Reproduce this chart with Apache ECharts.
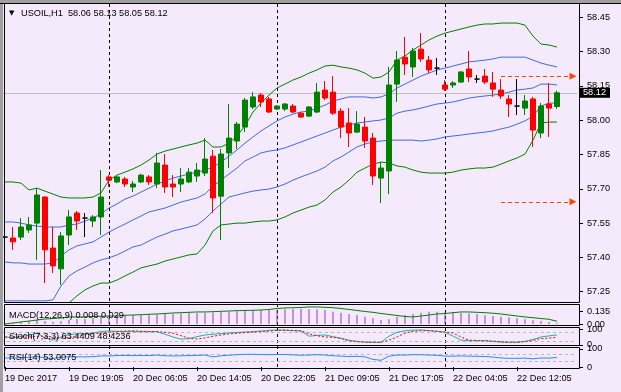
<!DOCTYPE html>
<html><head><meta charset="utf-8">
<script src="https://cdn.jsdelivr.net/npm/echarts@6/dist/echarts.min.js"></script>
<style>html,body{margin:0;padding:0;background:#F5EAFB;}#c{width:621px;height:392px;}</style>
</head><body><div id="c"></div>
<script>
// ---------- data ----------
const symbolName = 'USOIL,H1';
const timeLabels = ['19 Dec 2017','19 Dec 19:05','20 Dec 06:05','20 Dec 14:05','20 Dec 22:05','21 Dec 09:05','21 Dec 17:05','22 Dec 04:05','22 Dec 12:05'];
const labelStep = 8;
const categoryCount = 72;
const daySeparators = [13, 34, 55];
const priceTicks = [57.25,57.40,57.55,57.70,57.85,58.00,58.15,58.30,58.45];
const priceRange = [57.205, 58.504];
const lastPrice = 58.12;
const targetLevels = [58.192, 57.643];
const targetSpan = [62, 71];
// [open, close, low, high]
const candles = [
[57.489,57.489,57.454,57.550],[57.485,57.468,57.433,57.533],[57.489,57.533,57.476,57.572],[57.520,57.542,57.507,57.577],
[57.550,57.673,57.389,57.703],[57.664,57.433,57.288,57.668],[57.441,57.363,57.332,57.533],[57.350,57.494,57.280,57.511],
[57.498,57.577,57.454,57.607],[57.594,57.559,57.520,57.603],[57.572,57.572,57.489,57.594],[57.559,57.577,57.533,57.585],
[57.577,57.664,57.498,57.782],[57.752,57.738,57.708,57.760],[57.730,57.752,57.725,57.756],[57.743,57.721,57.708,57.752],
[57.708,57.721,57.686,57.734],[57.730,57.760,57.725,57.765],[57.752,57.730,57.717,57.760],[57.721,57.813,57.703,57.857],
[57.804,57.708,57.682,57.852],[57.721,57.708,57.664,57.760],[57.721,57.743,57.686,57.791],[57.730,57.773,57.725,57.791],
[57.756,57.782,57.730,57.813],[57.769,57.830,57.756,57.922],[57.843,57.660,57.594,57.870],[57.668,57.852,57.476,57.874],
[57.857,57.922,57.791,58.071],[57.909,57.983,57.874,57.992],[57.970,58.088,57.948,58.097],[58.058,58.102,58.049,58.123],
[58.110,58.080,58.058,58.119],[58.093,58.036,58.031,58.102],[58.049,58.062,58.045,58.066],[58.049,58.071,58.040,58.075],
[58.062,58.036,58.031,58.071],[58.031,58.014,58.010,58.036],[58.018,58.058,58.014,58.062],[58.036,58.123,58.031,58.163],
[58.132,58.097,58.088,58.171],[58.123,58.031,58.023,58.193],[58.040,57.970,57.922,58.053],[57.988,57.944,57.883,58.053],
[57.948,57.983,57.944,58.040],[57.970,57.909,57.879,58.014],[57.922,57.756,57.717,57.944],[57.747,57.791,57.638,57.817],
[57.778,58.154,57.677,58.233],[58.158,58.263,58.080,58.303],[58.276,58.246,58.198,58.364],[58.233,58.303,58.189,58.316],
[58.311,58.268,58.255,58.381],[58.263,58.220,58.206,58.281],[58.228,58.228,58.198,58.272],[58.154,58.136,58.128,58.176],
[58.154,58.163,58.141,58.171],[58.167,58.211,58.163,58.215],[58.224,58.189,58.167,58.303],[58.180,58.180,58.163,58.198],
[58.193,58.167,58.158,58.224],[58.163,58.136,58.102,58.211],[58.132,58.106,58.093,58.180],[58.093,58.071,58.014,58.110],
[58.062,58.062,58.023,58.180],[58.053,58.084,58.023,58.110],[58.093,57.957,57.883,58.102],[57.944,58.062,57.922,58.075],
[58.071,58.053,57.927,58.163],[58.06,58.12,58.05,58.13]
];
const bbUpper2 = [57.730,57.730,57.725,57.695,57.703,57.690,57.677,57.664,57.660,57.660,
57.660,57.664,57.682,57.738,57.760,57.773,57.787,57.804,57.826,57.852,
57.865,57.874,57.883,57.892,57.900,57.913,57.883,57.883,57.900,57.931,
57.975,58.036,58.075,58.110,58.141,58.158,58.176,58.189,58.206,58.220,
58.237,58.241,58.233,58.228,58.220,58.206,58.184,58.189,58.211,58.263,
58.281,58.307,58.329,58.351,58.368,58.381,58.390,58.399,58.408,58.416,
58.421,58.421,58.425,58.425,58.425,58.416,58.368,58.333,58.329,58.320];
const bbUpper1 = [57.555,57.555,57.550,57.542,57.537,57.533,57.533,57.533,57.542,57.546,
57.559,57.572,57.590,57.616,57.634,57.655,57.668,57.686,57.703,57.721,
57.734,57.747,57.756,57.765,57.773,57.782,57.795,57.817,57.843,57.870,
57.900,57.927,57.953,57.975,57.997,58.014,58.027,58.036,58.040,58.053,
58.066,58.084,58.093,58.102,58.102,58.102,58.097,58.102,58.115,58.141,
58.158,58.176,58.193,58.206,58.220,58.228,58.237,58.246,58.255,58.259,
58.263,58.268,58.276,58.276,58.276,58.276,58.263,58.250,58.241,58.233];
const bbMiddle = [57.380,57.376,57.376,57.371,57.371,57.371,57.376,57.406,57.433,57.450,
57.459,57.468,57.489,57.511,57.529,57.546,57.564,57.581,57.599,57.607,
57.616,57.629,57.642,57.651,57.660,57.677,57.712,57.738,57.765,57.791,
57.822,57.839,57.857,57.865,57.870,57.879,57.892,57.905,57.918,57.931,
57.944,57.957,57.970,57.979,57.988,57.992,57.997,58.001,58.010,58.031,
58.040,58.045,58.053,58.062,58.071,58.075,58.080,58.088,58.097,58.102,
58.106,58.110,58.115,58.123,58.132,58.136,58.141,58.158,58.158,58.154];
const bbLower1 = [57.210,57.210,57.210,57.210,57.210,57.210,57.214,57.275,57.319,57.341,
57.358,57.376,57.389,57.398,57.411,57.428,57.446,57.454,57.472,57.489,
57.502,57.516,57.524,57.533,57.542,57.568,57.603,57.634,57.664,57.673,
57.682,57.690,57.695,57.699,57.708,57.721,57.738,57.752,57.765,57.778,
57.795,57.822,57.839,57.861,57.883,57.896,57.905,57.909,57.913,57.913,
57.913,57.913,57.909,57.913,57.918,57.927,57.931,57.935,57.940,57.944,
57.948,57.953,57.962,57.970,57.983,57.997,58.018,58.062,58.075,58.075];
const bbLower2 = [57.030,57.030,57.030,57.039,57.039,57.048,57.066,57.144,57.201,57.232,
57.258,57.275,57.288,57.288,57.301,57.319,57.336,57.354,57.363,57.371,
57.384,57.393,57.402,57.411,57.415,57.454,57.516,57.542,57.546,57.550,
57.550,57.555,57.559,57.559,57.564,57.577,57.594,57.607,57.620,57.629,
57.651,57.686,57.708,57.738,57.773,57.791,57.808,57.817,57.813,57.800,
57.795,57.782,57.773,57.769,57.769,57.769,57.773,57.782,57.787,57.791,
57.791,57.795,57.808,57.822,57.835,57.852,57.913,57.988,57.992,57.992];
const macdMain = [0,0.011,0.022,0.032,0.043,0.032,0.022,0.032,0.043,0.054,
0.054,0.065,0.076,0.086,0.086,0.097,0.097,0.097,0.103,0.103,
0.108,0.108,0.113,0.119,0.119,0.122,0.124,0.130,0.133,0.137,
0.140,0.144,0.148,0.151,0.154,0.159,0.162,0.162,0.159,0.157,
0.151,0.133,0.122,0.108,0.097,0.079,0.062,0.043,0.051,0.079,
0.097,0.108,0.122,0.133,0.133,0.126,0.126,0.122,0.115,0.108,
0.094,0.086,0.079,0.070,0.062,0.051,0.040,0.032,0.022,0.008];
const macdSignal = [0,0.011,0.022,0.032,0.043,0.054,0.059,0.065,0.076,0.076,
0.076,0.081,0.083,0.086,0.086,0.094,0.097,0.100,0.105,0.108,
0.113,0.119,0.122,0.126,0.130,0.130,0.133,0.137,0.140,0.144,
0.146,0.148,0.151,0.157,0.167,0.173,0.176,0.178,0.184,0.184,
0.180,0.176,0.167,0.157,0.146,0.135,0.126,0.113,0.103,0.092,
0.081,0.076,0.086,0.097,0.108,0.113,0.122,0.130,0.130,0.126,
0.122,0.116,0.108,0.097,0.086,0.076,0.068,0.059,0.051,0.029];
const macdRange = [-0.0108, 0.205];
const macdTicks = [0.135, 0];
const stochMain = [50,45,55,60,75,45,30,50,65,70,
72,75,85,88,86,84,84,84,84,84,
68,50,36,40,52,63,68,72,76,79,
82,84,88,92,95,93,90,88,55,60,
63,52,42,30,22,17,16,16,55,80,
90,94,95,90,87,80,56,30,26,26,
26,22,17,16,16,22,34,50,57,63.4409];
const stochSignal = [50,50,48,50,55,55,50,42,45,55,
65,70,75,80,85,88,90,87,85,84,
80,74,58,42,37,44,55,62,70,74,
78,82,84,88,92,94,92,90,70,58,
50,48,40,25,20,18,16,16,30,50,
75,86,90,91,86,82,76,50,30,28,
26,24,20,17,17,20,28,40,43,48.4236];
const stochRange = [-1.06, 107.4];
const stochLevels = [80, 20];
const stochTicks = [100, 80, 20, 0];
const rsiValues = [50,49,52,53,58,50,47,54,57,56,
56,57,61,61,63,64,63,64,63,66,
62,61,62,63,64,66,56,62,65,68,
70,70,69,68,69,69,67,65,66,68,
66,62,60,58,59,56,42,37,60,66,
66,68,68,66,65,60,60,61,60,59,
58,55,50,48,48,49,45,50,49,53.0075];
const rsiRange = [-5.5, 105];
const rsiLevels = [70, 30];
const rsiTicks = [100, 70, 30, 0];

// ---------- chart ----------
const FONT = 'Liberation Sans';
const FS = 9.2;
const cats = Array.from({length: categoryCount}, (_, i) => String(i));
const last = candles[candles.length - 1];
const chart = echarts.init(document.getElementById('c'), null, {renderer: 'canvas'});

const grids = [
  {left: 1, top: 5, width: 576, height: 297},
  {left: 1, top: 305, width: 576, height: 20},
  {left: 1, top: 328, width: 576, height: 17},
  {left: 1, top: 348, width: 576, height: 20}
];
function hiddenX(gi) {
  return {gridIndex: gi, type: 'category', data: cats, boundaryGap: true,
    axisLine: {show: false}, axisTick: {show: false}, axisLabel: {show: false}, splitLine: {show: false}};
}
function rightY(gi, range, ticks, fmt) {
  return {gridIndex: gi, type: 'value', position: 'right', offset: 2, min: range[0], max: range[1],
    splitLine: {show: false}, axisLine: {show: false},
    axisTick: {show: true, length: 4, lineStyle: {color: '#000'}, customValues: ticks},
    axisLabel: {show: true, customValues: ticks, formatter: fmt, margin: 8, color: '#000',
      hideOverlap: false, showMinLabel: true, showMaxLabel: true,
      fontFamily: FONT, fontSize: FS}};
}
const xAxes = [hiddenX(0), hiddenX(1), hiddenX(2), {
  gridIndex: 3, type: 'category', data: cats, boundaryGap: true,
  axisLine: {show: false},
  axisTick: {show: true, length: 4, interval: labelStep - 1, alignWithLabel: true, lineStyle: {color: '#000'}},
  axisLabel: {show: true, interval: labelStep - 1, align: 'left', margin: 6, color: '#000',
    fontFamily: FONT, fontSize: FS, formatter: (v, i) => timeLabels[Math.floor(i / labelStep)] || ''},
  splitLine: {show: false}
}];
const yAxes = [
  rightY(0, priceRange, priceTicks, v => v.toFixed(2)),
  rightY(1, macdRange, macdTicks, v => v === 0 ? '0.00' : v.toFixed(3)),
  rightY(2, stochRange, stochTicks, v => String(v)),
  rightY(3, rsiRange, rsiTicks, v => String(v))
];
function line(data, gi, color, extra) {
  return Object.assign({type: 'line', xAxisIndex: gi, yAxisIndex: gi, data: data, symbol: 'none',
    lineStyle: {color: color, width: 1}, itemStyle: {color: color}, silent: true, z: 3}, extra || {});
}
const levelLine = (vals) => ({silent: true, symbol: 'none', z: 1, label: {show: false},
  lineStyle: {color: '#B8B8B8', type: [3, 3], width: 1}, data: vals.map(v => ({yAxis: v}))});

const series = [
  {type: 'candlestick', xAxisIndex: 0, yAxisIndex: 0, data: candles, barWidth: 5, z: 4,
    itemStyle: {color: '#008000', color0: '#FF0000', borderColor: '#008000', borderColor0: '#FF0000',
      borderColorDoji: '#000000', borderWidth: 1},
    markLine: {silent: true, symbol: 'none', z: 1, animation: false,
      lineStyle: {color: '#C0C0C0', type: 'solid', width: 1},
      label: {show: true, position: 'end', distance: 2, formatter: () => lastPrice.toFixed(2),
        backgroundColor: '#000', color: '#fff', padding: [1, 4, 0, 4], fontFamily: FONT, fontSize: FS},
      data: [{yAxis: lastPrice}]}},
  line(bbUpper2, 0, '#008000'),
  line(bbLower2, 0, '#008000'),
  line(bbUpper1, 0, '#4169E1'),
  line(bbMiddle, 0, '#4169E1'),
  line(bbLower1, 0, '#4169E1', {
    markLine: {silent: true, symbol: ['none', 'triangle'], symbolSize: [7, 7], z: 5,
      lineStyle: {color: '#FF4500', type: [4, 3], width: 1}, label: {show: false},
      data: targetLevels.map(v => [{coord: [String(targetSpan[0]), v]}, {coord: [String(targetSpan[1]), v]}])}
  }),
  {type: 'bar', xAxisIndex: 1, yAxisIndex: 1, data: macdMain, barWidth: 1, itemStyle: {color: '#9932CC'}, silent: true, z: 2},
  line(macdSignal, 1, '#008000'),
  line(stochMain, 2, '#20B2AA', {markLine: levelLine(stochLevels)}),
  line(stochSignal, 2, '#FF0000', {lineStyle: {color: '#FF0000', width: 1, type: [2, 2]}}),
  line(rsiValues, 3, '#1E90FF', {markLine: levelLine(rsiLevels)})
];

const txt = (x, y, s, size, fam) => ({type: 'text', x: x, y: y, z: 20,
  style: {text: s, fill: '#000', font: (size || FS) + 'px "' + (fam || FONT) + '"', verticalAlign: 'middle', align: 'left'}});
const frameRect = (x1, y1, x2, y2) => ({type: 'rect', z: 15, shape: {x: x1, y: y1, width: x2 - x1, height: y2 - y1},
  style: {fill: 'none', stroke: '#000', lineWidth: 1}});
const baseGraphics = [
  {type: 'rect', z: 14, shape: {x: 0, y: 0, width: 621, height: 3}, style: {fill: '#A0A0A0'}},
  {type: 'rect', z: 14, shape: {x: 0, y: 0, width: 3, height: 392}, style: {fill: '#A0A0A0'}},
  {type: 'line', z: 15, shape: {x1: 0, y1: 3.5, x2: 621, y2: 3.5}, style: {stroke: '#000', lineWidth: 1}},
  frameRect(4.5, 3.5, 579.5, 302.5),
  frameRect(4.5, 304.5, 579.5, 325.5),
  frameRect(4.5, 327.5, 579.5, 345.5),
  frameRect(4.5, 347.5, 579.5, 368.5),
  txt(9, 13, '\u25BC', 7, 'DejaVu Sans'),
  txt(21, 13, symbolName + '  ' + [last[0], last[3], last[2], last[1]].map(v => v.toFixed(2)).join(' ')),
  txt(9, 315, 'MACD(12,26,9) ' + macdMain[macdMain.length - 1].toFixed(3) + ' ' + macdSignal[macdSignal.length - 1].toFixed(3)),
  txt(9, 336, 'Stoch(7,3,3) ' + stochMain[stochMain.length - 1].toFixed(4) + ' ' + stochSignal[stochSignal.length - 1].toFixed(4)),
  txt(9, 357, 'RSI(14) ' + rsiValues[rsiValues.length - 1].toFixed(4))
];

chart.setOption({
  animation: false,
  backgroundColor: '#F5EAFB',
  grid: grids, xAxis: xAxes, yAxis: yAxes, series: series,
  graphic: {elements: baseGraphics}
});

// day separators, positioned through the category scale
const seps = daySeparators.map(idx => {
  const x = Math.round(chart.convertToPixel({xAxisIndex: 0}, idx)) + 0.5;
  return {type: 'line', z: 1, shape: {x1: x, y1: 4, x2: x, y2: 368},
    style: {stroke: '#000', lineWidth: 1, lineDash: [3, 3]}};
});
chart.setOption({graphic: {elements: baseGraphics.concat(seps)}});
</script></body></html>
